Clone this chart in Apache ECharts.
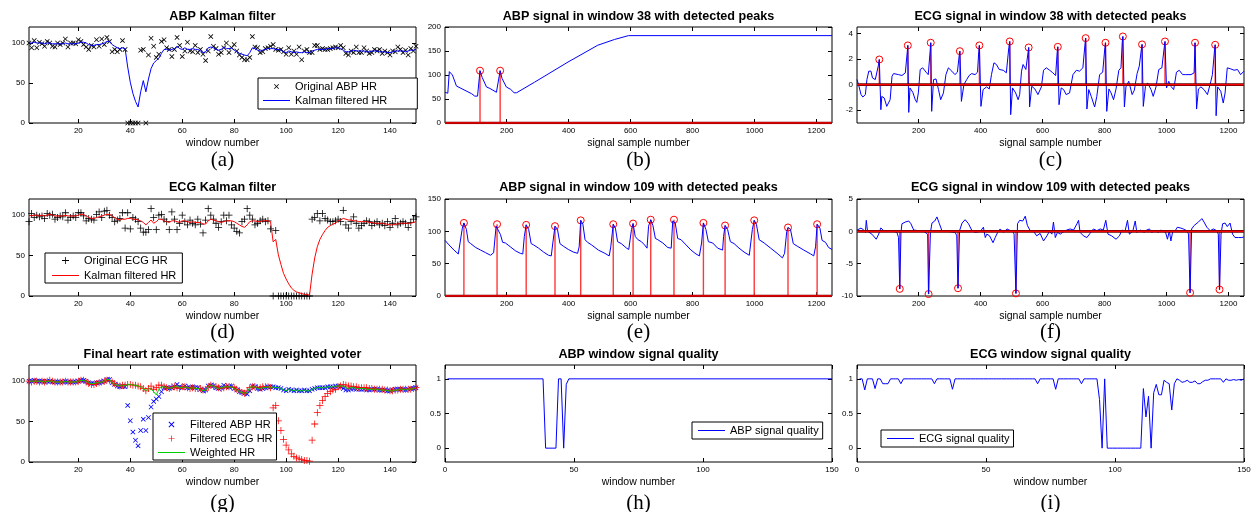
<!DOCTYPE html>
<html><head><meta charset="utf-8">
<script src="https://cdn.jsdelivr.net/npm/echarts@6/dist/echarts.min.js"></script>
<style>html,body{margin:0;padding:0;background:#fff}#c{width:1260px;height:512px}</style>
</head><body><div id="c"></div>
<script>
// ---------------- DATA ----------------
const windows = Array.from({length:150},(_,i)=>i+1);

const abpRawHR = [
 100,94,103,94,101,99,96,102,100,96,
 95,100,98,100,105,95,100,100,99,104,
 102,98,95,92,97,95,104,96,105,98,
 107,102,89,92,89,92,103,92,0,0,
 0,0,0,91,92,0,85,106,96,82,
 86,102,104,94,92,83,92,107,97,83,
 90,101,90,89,97,88,92,86,78,90,
 108,96,93,86,88,94,100,88,94,98,
 90,85,82,79,79,82,108,95,94,88,
 89,93,94,96,98,92,91,92,89,86,
 94,86,90,86,95,79,90,92,88,88,
 97,97,92,93,92,92,93,94,95,94,
 97,94,87,85,90,88,95,88,88,94,
 90,87,88,92,90,92,87,90,88,85,
 90,89,95,92,88,91,85,93,90,96];

const abpKalmanHR = [
 100,100,101,100,100,100,99,100,100,99,
 99,99,99,99,100,99,99,99,99,100,
 101,101,100,98,97,97,98,98,99,100,
 102,102,98,96,94,93,94,93,70,51,
 37,27,20,39,53,39,55,68,75,78,
 81,87,92,92,91,92,93,96,93,92,
 94,92,92,93,92,92,90,88,89,94,
 95,94,92,91,92,95,93,93,94,91,
 89,87,86,85,84,88,94,93,91,90,
 91,92,93,93,93,92,92,91,89,88,
 90,89,88,89,88,88,89,88,88,90,
 91,92,92,92,92,93,93,93,94,94,
 93,91,89,89,90,91,90,90,90,90,
 89,89,90,90,90,89,89,89,88,88,
 89,90,90,90,90,89,90,91,91,92];

const ecgRawHR = [
 92,102,97,100,98,99,96,102,100,101,
 95,97,99,98,103,94,97,99,97,103,
 103,99,93,96,95,94,101,104,97,105,
 106,100,97,92,94,96,103,84,103,83,
 97,95,92,84,79,79,82,108,97,82,
 100,101,95,92,82,104,95,82,90,100,
 92,88,94,90,88,95,89,78,94,108,
 100,95,90,85,92,100,93,100,88,84,
 80,78,92,95,108,100,95,88,90,93,
 95,92,93,83,0,81,0,0,0,0,
 0,0,0,0,0,0,0,0,0,95,
 97,102,93,102,96,94,92,92,93,95,
 92,106,88,84,92,98,90,84,87,90,
 93,92,87,90,92,88,90,87,92,85,
 90,96,88,90,92,90,85,91,95,98];

const ecgKalmanHR = [
 100,99,100,100,99,100,99,100,101,100,
 99,99,99,99,100,99,99,99,99,100,
 101,101,99,97,96,96,97,98,99,100,
 101,101,99,97,95,94,95,95,96,96,
 95,95,94,93,91,88,91,94,90,92,
 95,95,93,92,91,93,93,92,91,93,
 93,92,91,92,91,91,91,89,89,93,
 95,94,93,92,91,92,93,93,93,92,
 90,88,86,85,88,92,93,93,92,92,
 93,93,93,92,67,70,51,39,28,21,
 15,10,7,5,4,3,2,2,1,27,
 47,61,70,76,81,85,87,89,90,93,
 94,96,95,94,94,93,93,92,92,92,
 92,91,91,90,90,90,90,89,89,88,
 88,89,89,90,90,90,90,90,91,92];

const weightedHR = [
 100,100,100,100,100,100,99,100,100,100,
 99,99,99,99,100,99,99,99,99,100,
 101,101,100,98,97,97,98,98,99,100,
 102,102,98,96,95,94,95,94,96,96,
 95,95,94,93,91,88,91,90,87,83,
 90,93,93,92,91,92,93,94,92,92,
 93,92,91,92,91,91,90,88,89,93,
 95,94,92,91,92,93,93,93,93,91,
 89,87,86,85,86,92,93,93,91,91,
 92,92,93,92,93,92,92,91,89,88,
 90,89,88,89,88,88,89,88,88,90,
 91,92,92,92,92,93,93,93,94,94,
 94,94,92,91,92,92,91,91,91,91,
 90,90,90,90,90,89,89,89,88,88,
 88,89,89,90,90,89,90,90,91,92];

const abpQuality = [[1,1],[38,1],[39,0],[43,0],[44,1],[45,1],[46,0],[47,0.92],[48,1],[150,1]];

const ecgQuality = [
 1,1,0.84,1,1,1,0.86,1,1,0.93,
 0.93,0.93,1,1,1,1,0.93,1,1,1,
 1,1,1,1,1,1,1,1,1,0.93,
 1,1,1,1,1,1,0.85,1,1,1,
 1,1,1,1,1,1,1,1,1,1,
 1,1,1,1,1,1,1,1,1,1,
 1,1,1,1,1,1,1,1,1,0.93,
 1,1,1,1,1,1,0.85,1,1,1,
 1,1,1,1,1,1,0.93,1,1,1,
 1,1,1,0.7,0,1,0,0,0,0,
 0,0,0,0,0,0,0,0,0,0,
 0.86,0.45,0.75,0,0.8,0.92,0.77,0.77,0.98,0.95,
 0.93,0.55,0.93,1,0.98,0.95,0.96,0.98,0.95,0.95,
 0.97,0.93,0.93,0.96,0.98,0.98,1,1,1,1,
 1,0.95,1,0.98,0.98,0.99,0.98,0.99,0.98,1];

const sampleRange = [1,1250];

const abpWin38 = [[1,64],[10,62],[15,107],[25,100],[38,77],[87,61],[97,56],[106,56],[114,109],[121,95],[135,75],[146,72],[167,64],[172,66],[179,109],[185,93],[199,75],[213,70],[224,63],[232,63],[290,85],[398,127],[494,162],[548,174],[593,182],[1250,182]];
const abpWin38Peaks = [[114,109],[179,109]];

const ecgWin38 = [[1,0.4],[6,0],[14,-0.78],[20,-0.97],[28,-0.78],[33,0.39],[39,1.05],[46,1.05],[51,0.52],[60,0.39],[65,0.52],[70,1.5],[73,1.96],[76,-0.39],[78,-1.96],[81,-0.92],[89,-1.05],[97,-1.7],[103,-1.83],[108,-1.18],[114,0.65],[119,0.86],[135,0.78],[146,0.71],[157,0.92],[163,2.5],[165,3.06],[168,-2.17],[172,-0.26],[181,-0.6],[189,-1.18],[194,-1.39],[199,-0.65],[205,1.18],[213,1.31],[224,0.97],[231,0.78],[237,2.6],[239,3.27],[242,-2.09],[248,0.39],[256,0.44],[264,-0.39],[271,-1.18],[280,-0.65],[288,0.78],[296,1.31],[307,1.05],[317,0.78],[325,0.97],[331,2.3],[333,2.61],[338,-1.31],[346,0],[355,0.39],[363,0.71],[371,0.86],[382,0.78],[390,0.97],[394,2.6],[396,3.06],[401,-1.7],[408,-0.39],[419,-0.18],[428,-0.34],[435,0.78],[443,1.7],[451,1.57],[460,1.18],[473,1.12],[483,0.92],[491,2.9],[494,3.37],[497,-2.35],[503,-0.26],[513,-0.65],[521,-1.18],[526,-0.78],[532,1.05],[537,1.57],[546,1.18],[553,2.5],[555,2.9],[558,-1.75],[565,-0.13],[575,-0.34],[585,-0.78],[596,-0.18],[603,1.12],[612,1.31],[623,1.12],[633,0.92],[642,0.71],[647,2.5],[649,2.95],[653,-1.57],[660,-0.26],[668,-0.39],[676,-0.78],[687,-0.65],[698,0.78],[709,1.12],[719,1.05],[730,1.31],[737,3.2],[739,3.63],[743,-1.91],[749,-0.39],[757,-0.92],[768,-1.75],[775,-0.92],[784,0.78],[794,0.97],[801,2.9],[803,3.27],[807,-2.09],[814,-0.34],[821,-0.65],[829,-1.18],[837,-0.34],[846,1.12],[853,1.31],[857,3.3],[859,3.76],[864,-1.75],[869,-0.18],[878,0.26],[889,-0.78],[896,-0.44],[905,0.86],[912,1.44],[919,2.8],[921,3.14],[925,-1.7],[932,-0.13],[939,0.13],[950,-0.39],[957,-0.92],[966,-0.18],[975,1.18],[985,1.31],[993,3.0],[995,3.37],[1000,-0.26],[1007,0.26],[1014,-0.13],[1023,-0.39],[1032,0.97],[1041,1.12],[1052,0.78],[1062,0.78],[1079,0.78],[1089,0.92],[1092,3.27],[1097,-1.91],[1103,-0.34],[1111,-0.18],[1121,-0.39],[1132,-0.78],[1143,0.26],[1148,0.78],[1155,2.7],[1157,3.11],[1160,-2.43],[1165,-0.18],[1175,-0.52],[1183,-1.44],[1189,-0.65],[1196,1.31],[1207,1.23],[1218,1.12],[1229,1.18],[1239,0.78],[1250,1.05]];
const ecgWin38Peaks = [[73,1.96],[165,3.06],[239,3.27],[333,2.61],[396,3.06],[494,3.37],[555,2.90],[649,2.95],[739,3.63],[803,3.27],[859,3.76],[921,3.14],[995,3.37],[1092,3.27],[1157,3.11]];

const abpWin109 = [[1,86],[14,79],[30,71],[44,65],[46,63],[57,105],[62,113],[70,103],[76,84],[84,81],[100,75],[116,71],[132,67],[148,63],[153,63],[158,67],[166,108],[169,111],[172,109],[180,95],[187,83],[196,82],[212,76],[228,70],[244,66],[252,65],[257,92],[263,110],[271,103],[279,81],[287,79],[303,74],[319,68],[335,63],[344,62],[349,82],[356,108],[364,103],[372,81],[383,77],[399,72],[415,68],[429,66],[434,76],[439,117],[446,111],[453,87],[461,83],[474,79],[496,71],[517,66],[531,62],[536,76],[544,111],[551,105],[558,84],[570,81],[587,74],[594,72],[603,103],[608,112],[615,92],[624,87],[635,84],[645,79],[653,74],[658,108],[665,118],[672,109],[680,89],[688,87],[704,82],[720,75],[731,74],[736,116],[740,118],[744,113],[752,89],[763,87],[779,79],[795,71],[811,65],[822,62],[829,82],[835,113],[843,103],[851,84],[865,82],[881,74],[897,71],[900,92],[905,109],[913,103],[922,84],[934,81],[950,74],[966,68],[983,63],[988,64],[993,103],[999,117],[1006,111],[1015,87],[1031,82],[1052,74],[1073,66],[1090,59],[1097,66],[1104,100],[1108,106],[1116,103],[1125,81],[1138,77],[1159,71],[1181,65],[1191,62],[1197,76],[1202,111],[1211,105],[1218,86],[1229,83],[1239,75],[1250,72]];
const abpWin109Peaks = [[62,113],[169,111],[263,110],[356,108],[439,117],[544,111],[608,112],[665,118],[740,118],[835,113],[905,109],[999,117],[1108,106],[1202,111]];

const ecgWin109 = [[1,0.2],[6,0.2],[14,0.5],[23,0.2],[28,-0.16],[31,1.7],[35,0],[49,-0.43],[63,-1.22],[71,-0.43],[78,0.53],[87,0.1],[103,0],[119,0],[130,-0.16],[135,-0.96],[139,-8.9],[143,-0.16],[146,1.17],[157,1.44],[168,1.6],[175,1.17],[184,0.2],[216,0],[229,-0.43],[232,-9.7],[238,-0.16],[243,1.28],[252,1.6],[259,2.23],[267,1.17],[275,0.1],[291,0],[318,-0.16],[323,-0.7],[327,-8.8],[332,0.1],[340,1.28],[350,1.8],[361,1.17],[372,0.1],[383,-0.16],[399,0],[409,0.64],[415,-0.96],[420,-0.43],[429,-0.7],[440,-1.76],[447,-0.96],[455,-0.16],[463,0.37],[474,-0.16],[485,0.37],[496,0.1],[504,0],[508,-0.43],[514,-9.6],[519,1.17],[526,1.7],[536,1.6],[544,2.34],[551,0.9],[560,0.1],[571,0],[581,-0.7],[592,-0.32],[603,-1.49],[614,-0.7],[622,0],[630,-0.43],[635,1.44],[641,-0.96],[648,-0.16],[657,-0.43],[665,-0.16],[678,0.2],[689,0.37],[700,0.2],[711,1.17],[716,1.7],[721,-0.16],[732,-0.7],[743,-0.96],[753,-0.32],[764,0.37],[775,0.1],[786,0.37],[796,0.2],[804,1.7],[811,-0.43],[823,-0.7],[837,-1.22],[848,-0.7],[856,0.2],[866,0],[874,1.7],[880,-0.43],[891,0],[899,1.6],[904,-0.16],[915,0.2],[920,0.37],[928,-0.16],[936,0.2],[945,0.37],[952,-0.16],[963,0.1],[974,-0.16],[981,0.2],[990,0],[997,-0.16],[1003,-1.22],[1009,0.1],[1014,-1.49],[1020,0],[1028,0.1],[1035,0.64],[1044,0.53],[1054,0.37],[1065,0.1],[1071,-0.43],[1076,-9.5],[1081,0.37],[1089,0.9],[1103,1.44],[1114,1.97],[1121,1.44],[1130,0.64],[1141,0.1],[1151,0.37],[1162,0.1],[1167,-0.43],[1171,-9.0],[1176,-0.43],[1181,1.17],[1189,1.28],[1196,0.74],[1205,1.28],[1213,-0.43],[1221,-0.96],[1232,-0.96],[1243,-0.96],[1250,-0.85]];
const ecgWin109Peaks = [[139,-8.9],[232,-9.7],[327,-8.8],[514,-9.6],[1076,-9.5],[1171,-9.0]];

// tick labels
const windowTicks = [20,40,60,80,100,120,140];
const sampleTicks = [200,400,600,800,1000,1200];
const qualityXTicks = [0,50,100,150];
const hrTicks = [0,50,100];
const abpTicks = [0,50,100,150,200];
const ecg38Ticks = [-2,0,2,4];
const abp109Ticks = [0,50,100,150];
const ecg109Ticks = [-10,-5,0,5];
const qualityYTicks = [0,0.5,1];

const titles = ['ABP Kalman filter','ABP signal in window 38 with detected peaks','ECG signal in window 38 with detected peaks',
 'ECG Kalman filter','ABP signal in window 109 with detected peaks','ECG signal in window 109 with detected peaks',
 'Final heart rate estimation with weighted voter','ABP window signal quality','ECG window signal quality'];
const tags = ['(a)','(b)','(c)','(d)','(e)','(f)','(g)','(h)','(i)'];

// ---------------- LAYOUT ----------------
const colLeft = [29,445,857], gridW = 387;
const rowTop = [27,199,365], rowH = [96,97,97];
const titleY = [16.5,188,354.5];
const tagY = [150,322,493];

const panels = [
 {x:[1,150], xt:windowTicks, y:[0,120], yt:hrTicks, xn:'window number'},
 {x:sampleRange, xt:sampleTicks, y:[0,200], yt:abpTicks, xn:'signal sample number'},
 {x:sampleRange, xt:sampleTicks, y:[-3,4.5], yt:ecg38Ticks, xn:'signal sample number'},
 {x:[1,150], xt:windowTicks, y:[0,120], yt:hrTicks, xn:'window number'},
 {x:sampleRange, xt:sampleTicks, y:[0,150], yt:abp109Ticks, xn:'signal sample number'},
 {x:sampleRange, xt:sampleTicks, y:[-10,5], yt:ecg109Ticks, xn:'signal sample number'},
 {x:[1,150], xt:windowTicks, y:[0,120], yt:hrTicks, xn:'window number'},
 {x:[0,150], xt:qualityXTicks, y:[-0.2,1.2], yt:qualityYTicks, xn:'window number'},
 {x:[0,150], xt:qualityXTicks, y:[-0.2,1.2], yt:qualityYTicks, xn:'window number'}
];

const FONT = 'Liberation Sans';
const grid=[], xAxis=[], yAxis=[], title=[], series=[];
const tick = vals => ({show:true, inside:true, length:4, customValues:vals, lineStyle:{color:'#000', width:1}});
const noLine = {show:false, onZero:false};
const fmt = v => String(v);

panels.forEach((p,i)=>{
  const c=i%3, r=Math.floor(i/3);
  grid.push({left:colLeft[c], top:rowTop[r], width:gridW, height:rowH[r], show:true, borderColor:'#000', borderWidth:1, backgroundColor:'#fff'});
  xAxis.push({type:'value', gridIndex:i, min:p.x[0], max:p.x[1], position:'bottom',
    axisLine:noLine, splitLine:{show:false}, axisTick:tick(p.xt),
    axisLabel:{customValues:p.xt, formatter:fmt, fontSize:8, color:'#000', margin:4, fontFamily:FONT},
    name:p.xn, nameLocation:'middle', nameGap:15, nameTextStyle:{fontSize:10.5, color:'#000', fontFamily:FONT}});
  xAxis.push({type:'value', gridIndex:i, min:p.x[0], max:p.x[1], position:'top',
    axisLine:noLine, splitLine:{show:false}, axisTick:tick(p.xt), axisLabel:{show:false}});
  yAxis.push({type:'value', gridIndex:i, min:p.y[0], max:p.y[1], position:'left',
    axisLine:noLine, splitLine:{show:false}, axisTick:tick(p.yt),
    axisLabel:{customValues:p.yt, formatter:fmt, fontSize:8, color:'#000', margin:4, fontFamily:FONT}});
  yAxis.push({type:'value', gridIndex:i, min:p.y[0], max:p.y[1], position:'right',
    axisLine:noLine, splitLine:{show:false}, axisTick:tick(p.yt), axisLabel:{show:false}});
  const cx = colLeft[c] + gridW/2;
  title.push({text:titles[i], left:cx, top:titleY[r], textAlign:'center', textVerticalAlign:'middle', padding:0,
    textStyle:{fontSize:12.6, fontWeight:'bold', color:'#000', fontFamily:FONT}});
  title.push({text:tags[i], left:cx, top:tagY[r], textAlign:'center', textVerticalAlign:'top', padding:0,
    textStyle:{fontSize:21, fontWeight:'normal', color:'#000', fontFamily:'Liberation Serif'}});
});

const XMARK = 'path://M0,1.1L1.1,0L5,3.9L8.9,0L10,1.1L6.1,5L10,8.9L8.9,10L5,6.1L1.1,10L0,8.9L3.9,5Z';
const PLUS = 'path://M4.45,0H5.55V4.45H10V5.55H5.55V10H4.45V5.55H0V4.45H4.45Z';
const LINEICON = 'path://M0,4.5H27V5.5H0Z';
const BLUE='#0000ff', RED='#ff0000', GREEN='#00d000';

const byWindow = ys => windows.map((w,k)=>[w, ys[k]]);
const ax = i => ({xAxisIndex:2*i, yAxisIndex:2*i});

function lineS(i,name,data,color,width){
  return Object.assign({type:'line', name, data, symbol:'none', showSymbol:false, lineStyle:{color, width:width||1}, itemStyle:{color}, silent:true, animation:false}, ax(i));
}
function scatterS(i,name,data,symbol,size,color){
  return Object.assign({type:'scatter', name, data, symbol, symbolSize:size, itemStyle:{color, opacity:1}, silent:true, animation:false}, ax(i));
}
function stemS(i,data){
  return Object.assign({type:'custom', data, silent:true, animation:false, clip:true,
    renderItem:(params,api)=>{
      const p0=api.coord([api.value(0),0]); const p1=api.coord([api.value(0),api.value(1)]);
      return {type:'line', shape:{x1:p0[0],y1:p0[1],x2:p1[0],y2:p1[1]}, style:{stroke:'#ff3838', lineWidth:1.4}};
    }}, ax(i));
}
function circleS(i,data){
  return Object.assign({type:'scatter', data, symbol:'circle', symbolSize:7,
    itemStyle:{color:'rgba(0,0,0,0)', borderColor:RED, borderWidth:1, opacity:1}, silent:true, animation:false}, ax(i));
}
function baseS(i){
  return [
    Object.assign({type:'line', data:[[sampleRange[0],0],[sampleRange[1],0]], symbol:'none', lineStyle:{color:'#600', width:2.6}, silent:true, animation:false}, ax(i)),
    Object.assign({type:'line', data:[[sampleRange[0],0],[sampleRange[1],0]], symbol:'none', lineStyle:{color:RED, width:1.4}, silent:true, animation:false}, ax(i))
  ];
}

// (a)
series.push(scatterS(0,'Original ABP HR',byWindow(abpRawHR),XMARK,5,'#000'));
series.push(lineS(0,'Kalman filtered HR',byWindow(abpKalmanHR),BLUE));
// (b)
series.push(lineS(1,'abp38',abpWin38,BLUE), stemS(1,abpWin38Peaks), circleS(1,abpWin38Peaks), ...baseS(1));
// (c)
series.push(lineS(2,'ecg38',ecgWin38,BLUE), stemS(2,ecgWin38Peaks), circleS(2,ecgWin38Peaks), ...baseS(2));
// (d)
series.push(scatterS(3,'Original ECG HR',byWindow(ecgRawHR),PLUS,7,'#000'));
series.push(lineS(3,'Kalman filtered HR ',byWindow(ecgKalmanHR),RED));
// (e)
series.push(lineS(4,'abp109',abpWin109,BLUE), stemS(4,abpWin109Peaks), circleS(4,abpWin109Peaks), ...baseS(4));
// (f)
series.push(lineS(5,'ecg109',ecgWin109,BLUE), stemS(5,ecgWin109Peaks), circleS(5,ecgWin109Peaks), ...baseS(5));
// (g)
series.push(scatterS(6,'Filtered ABP HR',byWindow(abpKalmanHR),XMARK,5,BLUE));
series.push(scatterS(6,'Filtered ECG HR',byWindow(ecgKalmanHR),PLUS,7,RED));
series.push(lineS(6,'Weighted HR',byWindow(weightedHR),GREEN));
// (h)
series.push(lineS(7,'ABP signal quality',abpQuality,BLUE));
// (i)
series.push(lineS(8,'ECG signal quality',byWindow(ecgQuality),BLUE));

const lg = (items,left,top,padding,itemH,gap) => ({
  data: items.map(([name,icon,color])=>({name, icon, itemStyle:{color, borderWidth:0}})),
  left, top, orient:'vertical', padding, itemWidth:27, itemHeight:itemH, itemGap:gap,
  borderColor:'#000', borderWidth:1, backgroundColor:'#fff', selectedMode:false, symbolKeepAspect:true,
  textStyle:{fontSize:11, color:'#000', fontFamily:FONT}
});

const legend = [
  lg([['Original ABP HR',XMARK,'#000'],['Kalman filtered HR',LINEICON,BLUE]],258,78,[3,30,3,5],5,3),
  lg([['Original ECG HR',PLUS,'#000'],['Kalman filtered HR ',LINEICON,RED]],45,253,[2,3,2,7],7,4),
  lg([['Filtered ABP HR',XMARK,BLUE],['Filtered ECG HR',PLUS,RED],['Weighted HR',LINEICON,GREEN]],153,413,[6,4,2,5],6,3),
  lg([['ABP signal quality',LINEICON,BLUE]],692,422,[3,4,3,6],6,3),
  lg([['ECG signal quality',LINEICON,BLUE]],881,430,[3,4,3,6],6,3)
];

const chart = echarts.init(document.getElementById('c'), null, {renderer:'canvas'});
chart.setOption({animation:false, backgroundColor:'#fff', textStyle:{fontFamily:FONT},
  grid, xAxis, yAxis, title, legend, series});
</script></body></html>
